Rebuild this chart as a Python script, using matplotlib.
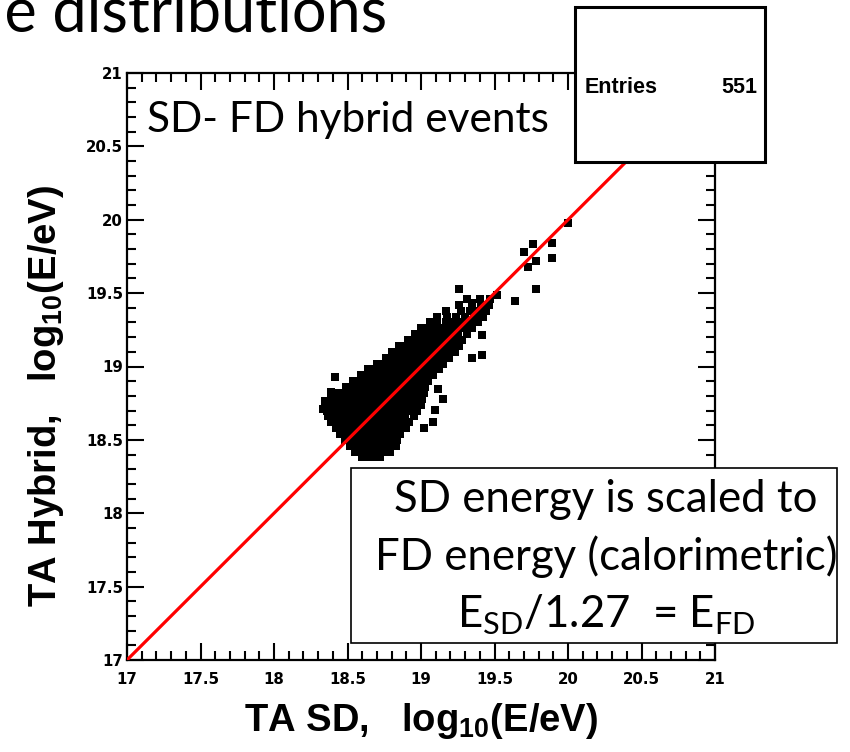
import matplotlib
matplotlib.use("Agg")
import matplotlib.pyplot as plt
from matplotlib.patches import Rectangle
from matplotlib.ticker import MultipleLocator, FuncFormatter

# dense core of the SD-FD hybrid sample:
# (TA Hybrid log10(E/eV), [TA SD log10(E/eV), ...])
core_rows = [
    (18.38, [18.60, 18.64, 18.68, 18.72]),
    (18.42, [18.55, 18.59, 18.63, 18.67, 18.71, 18.75, 18.79]),
    (18.46, [18.52, 18.56, 18.60, 18.64, 18.68, 18.72, 18.76, 18.80, 18.83]),
    (18.50, [18.48, 18.52, 18.56, 18.60, 18.64, 18.68, 18.72, 18.76, 18.80, 18.84]),
    (18.54, [18.45, 18.49, 18.53, 18.57, 18.61, 18.65, 18.69, 18.73, 18.77, 18.81, 18.86]),
    (18.58, [18.42, 18.46, 18.50, 18.54, 18.58, 18.62, 18.66, 18.70, 18.74, 18.78, 18.82, 18.86, 18.90]),
    (18.62, [18.39, 18.43, 18.47, 18.51, 18.55, 18.59, 18.63, 18.67, 18.71, 18.75, 18.79, 18.83, 18.87, 18.92]),
    (18.66, [18.37, 18.41, 18.45, 18.49, 18.53, 18.57, 18.61, 18.65, 18.69, 18.73, 18.77, 18.81, 18.85, 18.89, 18.95]),
    (18.70, [18.36, 18.40, 18.44, 18.48, 18.52, 18.56, 18.60, 18.64, 18.68, 18.72, 18.76, 18.80, 18.84, 18.88, 18.92, 18.97]),
    (18.74, [18.36, 18.40, 18.44, 18.48, 18.52, 18.56, 18.60, 18.64, 18.68, 18.72, 18.76, 18.80, 18.84, 18.88, 18.92, 18.96, 19.00]),
    (18.78, [18.39, 18.43, 18.47, 18.51, 18.55, 18.59, 18.63, 18.67, 18.71, 18.75, 18.79, 18.83, 18.87, 18.91, 18.96, 19.01]),
    (18.82, [18.44, 18.48, 18.52, 18.56, 18.60, 18.64, 18.68, 18.72, 18.76, 18.80, 18.84, 18.88, 18.92, 18.97, 19.02]),
    (18.86, [18.49, 18.53, 18.57, 18.61, 18.65, 18.69, 18.73, 18.77, 18.81, 18.85, 18.89, 18.93, 18.98, 19.03]),
    (18.90, [18.54, 18.58, 18.62, 18.66, 18.70, 18.74, 18.78, 18.82, 18.86, 18.90, 18.94, 18.99, 19.05]),
    (18.94, [18.59, 18.63, 18.67, 18.71, 18.75, 18.79, 18.83, 18.87, 18.91, 18.95, 18.99, 19.03, 19.08]),
    (18.98, [18.64, 18.68, 18.72, 18.76, 18.80, 18.84, 18.88, 18.92, 18.96, 19.00, 19.04, 19.08, 19.12]),
    (19.02, [18.70, 18.74, 18.78, 18.82, 18.86, 18.90, 18.94, 18.98, 19.02, 19.06, 19.10, 19.15]),
    (19.06, [18.76, 18.80, 18.84, 18.88, 18.92, 18.96, 19.00, 19.04, 19.08, 19.12, 19.16, 19.19]),
    (19.10, [18.80, 18.84, 18.88, 18.92, 18.96, 19.00, 19.04, 19.08, 19.12, 19.16, 19.20, 19.23]),
    (19.14, [18.85, 18.89, 18.93, 18.97, 19.01, 19.05, 19.09, 19.13, 19.17, 19.21, 19.26]),
    (19.18, [18.91, 18.95, 18.99, 19.03, 19.07, 19.11, 19.15, 19.19, 19.23, 19.28]),
    (19.22, [18.96, 19.00, 19.04, 19.08, 19.13, 19.17, 19.21, 19.25, 19.31]),
    (19.26, [19.00, 19.05, 19.09, 19.14, 19.19, 19.24, 19.29, 19.35]),
    (19.30, [19.06, 19.11, 19.17, 19.22, 19.27, 19.33, 19.39]),
    (19.34, [19.11, 19.18, 19.24, 19.30, 19.36, 19.42]),
    (19.38, [19.17, 19.27, 19.33, 19.39, 19.44]),
    (19.42, [19.26, 19.35, 19.41, 19.46]),
    (19.46, [19.31, 19.40, 19.47]),
]

# isolated events around the core
sd_out = [18.415, 18.64, 18.735, 18.776, 18.388, 18.347, 18.333, 19.095, 19.08, 19.02,
          19.15, 19.116, 19.28, 19.347, 19.415, 19.415, 19.415, 19.347, 19.26, 19.517,
          19.64, 19.78, 19.70, 19.728, 19.78, 19.76, 19.89, 19.89, 20.00]
hyb_out = [18.928, 18.97, 18.963, 19.058, 18.826, 18.765, 18.71, 18.704, 18.62, 18.58,
           18.78, 18.847, 19.18, 19.058, 19.078, 19.215, 19.337, 19.433, 19.53, 19.487,
           19.446, 19.53, 19.78, 19.678, 19.72, 19.835, 19.84, 19.74, 19.98]

sd = [x for y, xs in core_rows for x in xs] + sd_out
hyb = [y for y, xs in core_rows for x in xs] + hyb_out

n_entries = 551
line_ends = [17, 21]

W, H = 850, 752
def fx(px):
    return px / W
def fy(py):
    return 1 - py / H

plt.rcParams['mathtext.fontset'] = 'custom'
plt.rcParams['mathtext.rm'] = 'Liberation Sans:bold'

fig = plt.figure(figsize=(W / 100, H / 100), dpi=100)
ax = fig.add_axes([fx(127), fy(660), fx(715) - fx(127), fy(73) - fy(660)])

ax.plot(sd, hyb, 's', color='black', markersize=5.3, markeredgewidth=0, zorder=2)
ax.plot(line_ends, line_ends, color='red', lw=2.3, zorder=3)

ax.set_xlim(17, 21)
ax.set_ylim(17, 21)
for a in (ax.xaxis, ax.yaxis):
    a.set_major_locator(MultipleLocator(0.5))
    a.set_minor_locator(MultipleLocator(0.1))
    a.set_major_formatter(FuncFormatter(lambda v, p: '%g' % v))
ax.tick_params(which='both', direction='in', top=True, right=True, width=1.5)
ax.tick_params(which='major', length=12)
ax.tick_params(which='minor', length=6.5)
ax.tick_params(axis='x', pad=9)
ax.tick_params(axis='y', pad=3)
for lab in ax.get_xticklabels() + ax.get_yticklabels():
    lab.set_fontfamily('DejaVu Sans')
    lab.set_fontweight('bold')
    lab.set_fontsize(10.8)
for s in ax.spines.values():
    s.set_linewidth(1.6)

fig.text(fx(421), fy(731), r'TA SD,   log$_\mathregular{10}$(E/eV)',
         family='Liberation Sans', weight='bold', fontsize=27.5,
         ha='center', va='baseline')
fig.text(fx(56), fy(396), r'TA Hybrid,   log$_\mathregular{10}$(E/eV)',
         family='Liberation Sans', weight='bold', fontsize=27.5,
         ha='center', va='baseline', rotation=90, rotation_mode='anchor')

# slide text in Calibri-like face
fig.text(fx(147), fy(132), 'SD- FD hybrid events', family='Lato', fontsize=30.5,
         ha='left', va='baseline')
fig.text(fx(-10), fy(32), 'le distributions', family='Lato', fontsize=44,
         ha='left', va='baseline')

# stats box
fig.add_artist(Rectangle((fx(575), fy(162)), fx(765) - fx(575), fy(7) - fy(162),
                         transform=fig.transFigure, facecolor='white',
                         edgecolor='black', lw=2.2, zorder=5))
fig.text(fx(585), fy(93), 'Entries', family='Liberation Sans', weight='bold',
         fontsize=15.5, ha='left', va='baseline', zorder=6)
fig.text(fx(757), fy(93), str(n_entries), family='Liberation Sans', weight='bold',
         fontsize=15.5, ha='right', va='baseline', zorder=6)

# note box
fig.add_artist(Rectangle((fx(351), fy(643)), fx(837) - fx(351), fy(468) - fy(643),
                         transform=fig.transFigure, facecolor='white',
                         edgecolor='black', lw=1.2, zorder=5))
note = ['SD energy is scaled to', 'FD energy (calorimetric)',
        r'E$_\mathregular{SD}$/1.27  = E$_\mathregular{FD}$']
for txt, base in zip(note, [512, 570, 628]):
    fig.text(fx(606), fy(base), txt, family='Lato', fontsize=31.5,
             ha='center', va='baseline', zorder=6)

fig.savefig('out.png', dpi=100)
